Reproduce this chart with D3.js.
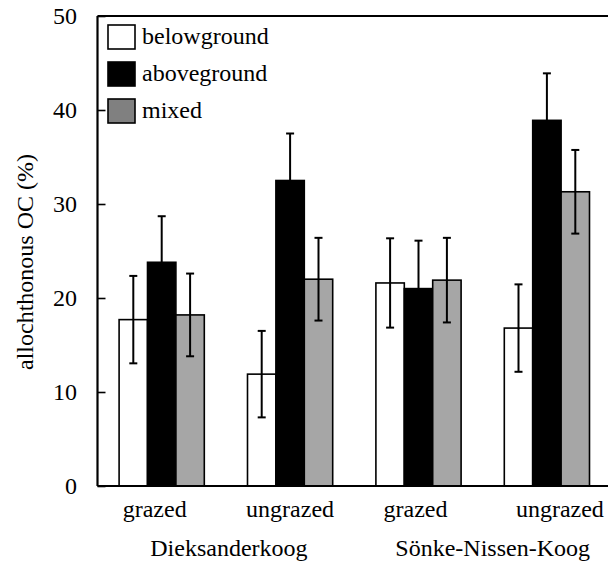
<!DOCTYPE html>
<html>
<head>
<meta charset="utf-8">
<script src="https://cdn.jsdelivr.net/npm/d3@7"></script>
<style>
  body { margin: 0; background: #fff; }
</style>
</head>
<body>
<div id="chart"></div>
<script>
var sites = ["Dieksanderkoog", "Sönke-Nissen-Koog"];
var treatments = ["grazed", "ungrazed", "grazed", "ungrazed"];
var seriesNames = ["belowground", "aboveground", "mixed"];
var belowground = [17.7, 11.9, 21.6, 16.8];
var aboveground = [23.8, 32.5, 21.0, 38.9];
var mixed = [18.2, 22.0, 21.9, 31.3];
var belowgroundErr = [4.65, 4.6, 4.75, 4.65];
var abovegroundErr = [4.9, 5.0, 5.1, 5.0];
var mixedErr = [4.4, 4.4, 4.5, 4.45];
var yTicks = [0, 10, 20, 30, 40, 50];

var colours = ["#ffffff", "#000000", "#a6a6a6"];
var legendColours = ["#ffffff", "#000000", "#808080"];

var width = 608, height = 563;
var margin = {left: 97.5, top: 16, bottom: 77};
var serif = "Liberation Serif";
var fs = "24px";
// label nudges, the source layout is not exactly centred
var treatNudge = [-7, 0, -3, 13];
var siteNudge = [3, 10];

var svg = d3.select("#chart")
  .append("svg")
    .attr("width", width)
    .attr("height", height);

var groups = treatments.map((t, i) => i);
var values = [belowground, aboveground, mixed];
var errors = [belowgroundErr, abovegroundErr, mixedErr];

var x0 = d3.scaleBand()
  .domain(groups)
  .range([margin.left, margin.left + 4 * 128.4]);

// three bars of ~28.4px centred in each group
var x1 = d3.scaleBand()
  .domain([0, 1, 2])
  .range([x0.bandwidth() / 2 - 42.6, x0.bandwidth() / 2 + 42.6]);

var y = d3.scaleLinear()
  .domain([0, 50])
  .range([height - margin.bottom, margin.top]);

// bars
var cells = [];
groups.forEach(g => {
  seriesNames.forEach((s, k) => {
    cells.push({g: g, k: k, v: values[k][g], e: errors[k][g]});
  });
});

svg.selectAll(".bar")
  .data(cells)
  .enter()
  .append("rect")
    .attr("class", "bar")
    .attr("x", d => x0(d.g) + x1(d.k))
    .attr("y", d => y(d.v))
    .attr("width", x1.bandwidth())
    .attr("height", d => y(0) - y(d.v))
    .style("fill", d => colours[d.k])
    .style("stroke", "#000")
    .style("stroke-width", 1.6);

// error bars
var err = svg.selectAll(".err")
  .data(cells)
  .enter()
  .append("g")
    .attr("class", "err")
    .attr("transform", d => "translate(" + (x0(d.g) + x1(d.k) + x1.bandwidth() / 2) + ",0)");

err.append("line")
  .attr("y1", d => y(d.v - d.e))
  .attr("y2", d => y(d.v + d.e))
  .style("stroke", "#000")
  .style("stroke-width", 2);

err.append("line")
  .attr("x1", -4).attr("x2", 4)
  .attr("y1", d => y(d.v + d.e))
  .attr("y2", d => y(d.v + d.e))
  .style("stroke", "#000")
  .style("stroke-width", 2);

err.append("line")
  .attr("x1", -4).attr("x2", 4)
  .attr("y1", d => y(d.v - d.e))
  .attr("y2", d => y(d.v - d.e))
  .style("stroke", "#000")
  .style("stroke-width", 2);

// axes
var yAxis = svg.append("g")
  .attr("transform", "translate(" + margin.left + ",0)")
  .call(d3.axisRight(y).tickValues(yTicks).tickSize(8).tickFormat(""));
yAxis.select(".domain").remove();
yAxis.selectAll("line").style("stroke", "#000").style("stroke-width", 1.6);

svg.selectAll(".ylab")
  .data(yTicks)
  .enter()
  .append("text")
    .attr("x", 77)
    .attr("y", d => y(d) + 8)
    .attr("text-anchor", "end")
    .style("font-family", serif)
    .style("font-size", fs)
    .text(d => d);

svg.append("line")
  .attr("x1", margin.left).attr("x2", margin.left)
  .attr("y1", y(50)).attr("y2", y(0))
  .style("stroke", "#000").style("stroke-width", 2.2);

svg.append("line")
  .attr("x1", margin.left).attr("x2", width)
  .attr("y1", y(0)).attr("y2", y(0))
  .style("stroke", "#000").style("stroke-width", 2.2);

svg.append("line")
  .attr("x1", margin.left).attr("x2", width)
  .attr("y1", y(50)).attr("y2", y(50))
  .style("stroke", "#000").style("stroke-width", 2.2);

// category labels
svg.selectAll(".xlab")
  .data(groups)
  .enter()
  .append("text")
    .attr("x", d => x0(d) + x0.bandwidth() / 2 + treatNudge[d])
    .attr("y", 517)
    .attr("text-anchor", "middle")
    .style("font-family", serif)
    .style("font-size", fs)
    .text(d => treatments[d]);

svg.selectAll(".site")
  .data(sites)
  .enter()
  .append("text")
    .attr("x", (d, i) => (x0(2 * i) + x0(2 * i + 1) + x0.bandwidth()) / 2 + siteNudge[i])
    .attr("y", 556)
    .attr("text-anchor", "middle")
    .style("font-family", serif)
    .style("font-size", fs)
    .text(d => d);

svg.append("text")
  .attr("transform", "translate(33,262) rotate(-90)")
  .attr("text-anchor", "middle")
  .style("font-family", serif)
  .style("font-size", fs)
  .text("allochthonous OC (%)");

// legend
var legend = svg.selectAll(".legend")
  .data(seriesNames)
  .enter()
  .append("g")
    .attr("class", "legend")
    .attr("transform", (d, i) => "translate(108," + (25 + i * 37) + ")");

legend.append("rect")
  .attr("width", 27)
  .attr("height", 24)
  .style("fill", (d, i) => legendColours[i])
  .style("stroke", "#000")
  .style("stroke-width", 1.6);

legend.append("text")
  .attr("x", 34)
  .attr("y", 19)
  .style("font-family", serif)
  .style("font-size", fs)
  .text(d => d);
</script>
</body>
</html>
